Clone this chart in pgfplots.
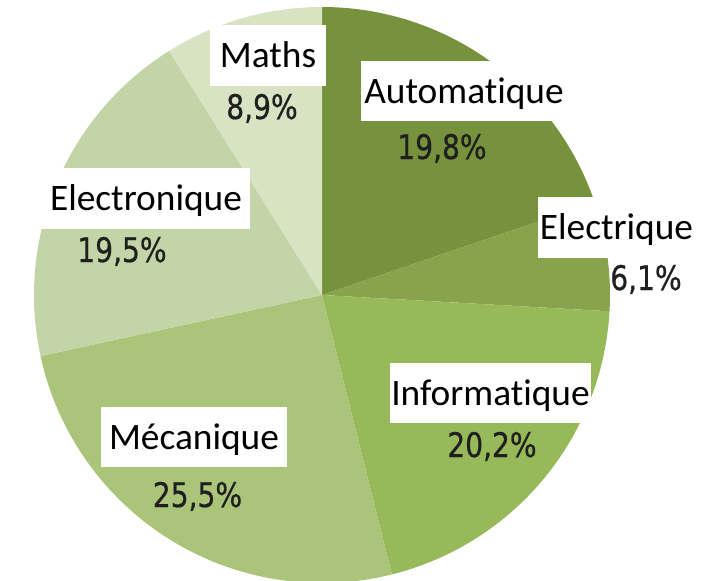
\documentclass[border=0pt]{standalone}
\usepackage{fontspec}
\usepackage{pgfplots}
\usepackage{pgfplotstable}
\pgfplotsset{compat=1.18}
\setmainfont{Carlito}[Ligatures=NoCommon]
\newfontfamily\pctfont[FakeStretch=0.83,FakeBold=0.6]{DejaVu Sans}
\definecolor{cAuto}{HTML}{76923C}
\definecolor{cElec}{HTML}{87A34C}
\definecolor{cInfo}{HTML}{98B95A}
\definecolor{cMeca}{HTML}{AAC47A}
\definecolor{cElectro}{HTML}{C3D5A6}
\definecolor{cMath}{HTML}{D7E3C3}
\pgfplotstableread{
pct col
19.8 cAuto
6.1 cElec
20.2 cInfo
25.5 cMeca
19.5 cElectro
8.9 cMath
}\piedata
\begin{document}
\begin{tikzpicture}
\begin{axis}[x=1bp,y=1bp,xmin=0,xmax=715,ymin=0,ymax=581,y dir=reverse,
  hide axis,clip=false,scale only axis]
\def\cum{0}
\pgfplotsforeachungrouped \i in {0,...,5}{%
  \pgfplotstablegetelem{\i}{pct}\of\piedata \let\slicepct\pgfplotsretval
  \pgfplotstablegetelem{\i}{col}\of\piedata \let\slicecol\pgfplotsretval
  \pgfmathsetmacro\angA{90-3.6*\cum}%
  \pgfmathsetmacro\angB{90-3.6*(\cum+\slicepct)}%
  \edef\temp{\noexpand\fill[\slicecol] (axis cs:322,295) -- ++(\angA:288bp) arc[start angle=\angA, end angle=\angB, radius=288bp] -- cycle;}%
  \temp
  \pgfmathsetmacro\cum{\cum+\slicepct}%
}
% label boxes
\fill[white] (axis cs:210,25) rectangle (axis cs:326,86);
\fill[white] (axis cs:361,61) rectangle (axis cs:567,121);
\fill[white] (axis cs:538,197) rectangle (axis cs:695,258);
\fill[white] (axis cs:42,168) rectangle (axis cs:250,229);
\fill[white] (axis cs:390,363) rectangle (axis cs:591,423);
\fill[white] (axis cs:101,407) rectangle (axis cs:287,467);
\tikzset{lab/.style={anchor=base,inner sep=0pt,font=\fontsize{37.5}{37.5}\selectfont},
         pct/.style={anchor=base,inner sep=0pt,text=black!88,font=\pctfont\fontsize{34}{34}\selectfont}}
\node[lab] at (axis cs:268,67) {Maths};
\node[lab] at (axis cs:464,103) {Automatique};
\node[lab] at (axis cs:616.5,239) {Electrique};
\node[lab] at (axis cs:146,210) {Electronique};
\node[lab] at (axis cs:490.5,405) {Informatique};
\node[lab] at (axis cs:194,449) {Mécanique};
\node[pct] at (axis cs:262,119) {8,9\%};
\node[pct] at (axis cs:442,159) {19,8\%};
\node[pct] at (axis cs:646,290) {6,1\%};
\node[pct] at (axis cs:122,262) {19,5\%};
\node[pct] at (axis cs:492,457) {20,2\%};
\node[pct] at (axis cs:197.5,507) {25,5\%};
\end{axis}
\pgfresetboundingbox
\path (0,0) rectangle (715bp,581bp);
\end{tikzpicture}
\end{document}
